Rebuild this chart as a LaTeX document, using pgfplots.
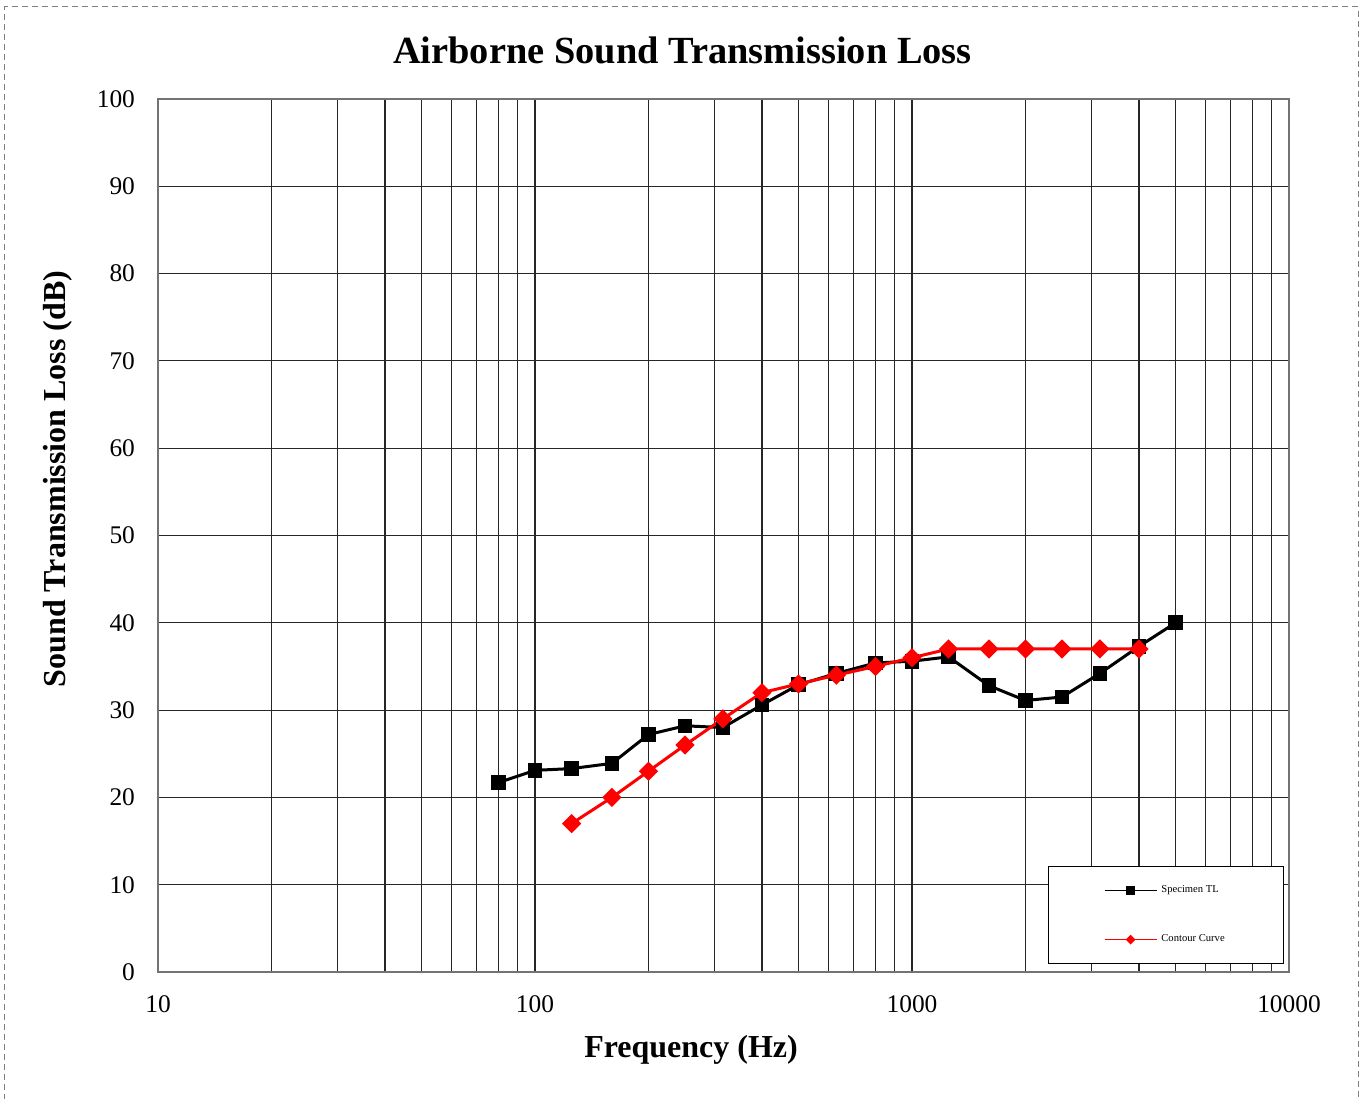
\documentclass[border=0pt]{standalone}
\usepackage{fontspec}
\setmainfont{Liberation Serif}
\usepackage{pgfplots}
\pgfplotsset{compat=1.18}
\begin{document}
\begin{tikzpicture}
\useasboundingbox (-79pt,-63pt) rectangle (601pt,486pt);
\draw[gray, densely dashed, line width=0.5pt] (-76.5pt,-64pt) -- (-76.5pt,482.5pt) -- (600pt,482.5pt) -- (600pt,-64pt);
\begin{semilogxaxis}[
  at={(0,0)}, anchor=south west,
  scale only axis, width=565.5pt, height=436.5pt,
  xmin=10, xmax=10000, ymin=0, ymax=100,
  xtick={10,100,1000,10000}, xticklabels={10,100,1000,10000},
  ytick={0,10,...,100},
  grid=both,
  major grid style={black!85, line width=0.55pt},
  minor grid style={black!85, line width=0.55pt},
  axis line style={black!55, line width=1pt},
  major tick length=0pt, minor tick length=0pt,
  tick label style={font=\fontsize{12.7}{14}\selectfont},
  /pgf/number format/assume math mode=true,
  yticklabel style={xshift=-8pt},
  xticklabel style={yshift=-8.5pt},
  title={Airborne Sound Transmission Loss},
  title style={font=\fontsize{19.2}{22}\selectfont\bfseries, at={(axis description cs:0.4637,1.0424)}, anchor=center},
  xlabel={Frequency (Hz)},
  xlabel style={font=\fontsize{16}{19}\selectfont\bfseries, at={(axis description cs:0.4713,-0.0894)}, anchor=center},
  ylabel={Sound Transmission Loss (dB)},
  ylabel style={font=\fontsize{16}{19}\selectfont\bfseries, at={(axis description cs:-0.0884,0.5647)}, anchor=center},
  legend cell align=left,
  legend style={at={(0.787,0.1214)}, anchor=north west, draw=black, line width=0.6pt,
    font=\fontsize{5.3}{6}\selectfont, inner xsep=27.5pt, inner ysep=7.5pt, row sep=15.5pt},
]
\addplot[black, line width=1.5pt, mark=square*, mark size=2.9pt,
  legend image code/.code={\draw[mark repeat=2,mark phase=2,line width=0.85pt,mark size=1.7pt] plot coordinates {(0pt,0pt) (13pt,0pt) (26pt,0pt)};}]
coordinates {(80,21.7)(100,23.1)(125,23.3)(160,23.9)(200,27.2)(250,28.2)(315,28.0)(400,30.6)(500,32.9)(630,34.2)(800,35.4)(1000,35.6)(1250,36.1)(1600,32.8)(2000,31.1)(2500,31.5)(3150,34.2)(4000,37.3)(5000,40.0)};
\addlegendentry{Specimen TL}
\addplot[red, line width=1.5pt, mark=square*, mark size=2.65pt, mark options={rotate=45},
  legend image code/.code={\draw[mark repeat=2,mark phase=2,line width=0.85pt,mark size=1.3pt] plot coordinates {(0pt,0pt) (13pt,0pt) (26pt,0pt)};}]
coordinates {(125,17)(160,20)(200,23)(250,26)(315,29)(400,32)(500,33)(630,34)(800,35)(1000,36)(1250,37)(1600,37)(2000,37)(2500,37)(3150,37)(4000,37)};
\addlegendentry{Contour Curve}
\end{semilogxaxis}
\end{tikzpicture}
\end{document}
